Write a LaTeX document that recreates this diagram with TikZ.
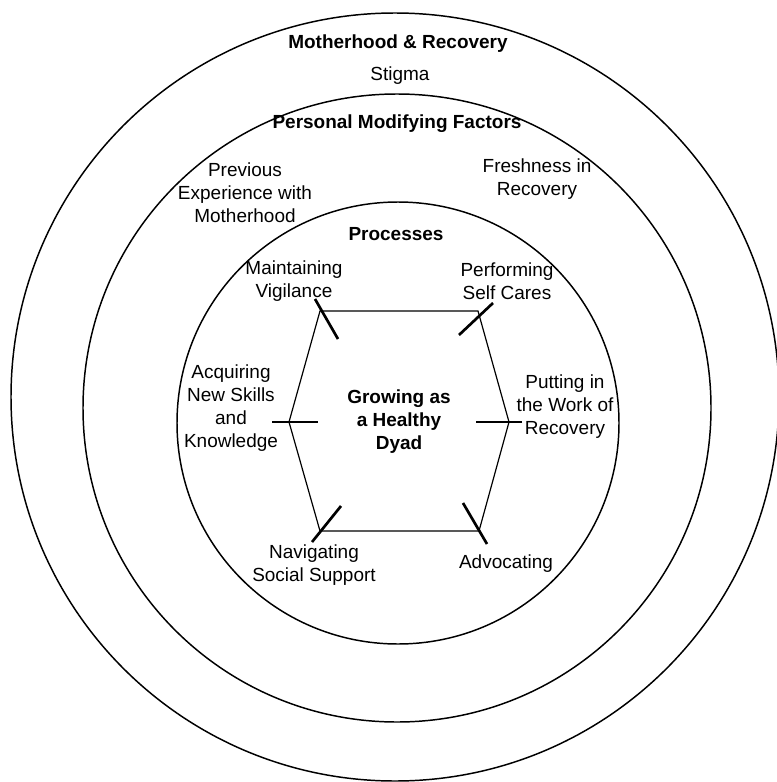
\documentclass[tikz,border=0pt]{standalone}
\usepackage{fontspec}
\setmainfont{Liberation Sans}
\usepackage{tikz}

\begin{document}
\begin{tikzpicture}[x = 0.025cm, y = -0.025cm,
                    ring/.style  = {draw, line width = 1.05pt},
                    hexa/.style  = {draw, line width = 0.85pt},
                    tick/.style  = {draw, line width = 1.9pt},
                    lbl/.style   = {align = center,
                                    inner sep = 0pt,
                                    font = \fontsize{13.5}{16.3}\selectfont},
                    head/.style  = {lbl,
                                    font = \fontsize{13.5}{16.3}\selectfont\bfseries}]

\useasboundingbox (0,0) rectangle (776,782);

% layers
\draw[ring] (395,397) circle [radius = 384];
\draw[ring] (397,408) circle [radius = 314];
\draw[ring] (398,423) circle [radius = 221];

% hexagon corners
\coordinate (TL) at (320,311);
\coordinate (TR) at (478,311);
\coordinate (R)  at (509,422);
\coordinate (BR) at (479,531);
\coordinate (BL) at (320,531);
\coordinate (L)  at (289,422);

\draw[hexa] (TL) -- (TR) -- (R) -- (BR) -- (BL) -- (L) -- cycle;

\draw[tick] (TL) ++(-5,-12) -- ++(23,40);
\draw[tick] (TR) ++(15,-8)  -- ++(-34,32);
\draw[tick] (R)  ++(13,0)   -- ++(-46,0);
\draw[tick] (BR) ++(8,13)   -- ++(-24,-41);
\draw[tick] (BL) ++(-8,11)  -- ++(29,-36);
\draw[tick] (L)  ++(-17,0)  -- ++(46,0);

% outer layer
\node[head] (MR)    at (398,44)  {Motherhood \& Recovery};
\node[lbl]  (stig)  at (400,76)  {Stigma};

% middle layer
\node[head] (PMF)   at (397,124) {Personal Modifying Factors};
\node[lbl]  (prev)  at (245,193) {Previous\\Experience with\\Motherhood};
\node[lbl]  (fresh) at (537,179) {Freshness in\\Recovery};

% inner layer
\node[head] (proc)  at (396,234) {Processes};
\node[lbl]  (maint) at (294,281) {Maintaining\\Vigilance};
\node[lbl]  (perf)  at (507,281) {Performing\\Self Cares};
\node[lbl]  (acq)   at (231,408) {Acquiring\\New Skills\\and\\Knowledge};
\node[lbl]  (work)  at (565,407) {Putting in\\the Work of\\Recovery};
\node[lbl]  (nav)   at (314,565) {Navigating\\Social Support};
\node[lbl]  (adv)   at (506,564) {Advocating};

\node[head] (dyad)  at (399,422) {Growing as\\a Healthy\\Dyad};

\end{tikzpicture}
\end{document}
